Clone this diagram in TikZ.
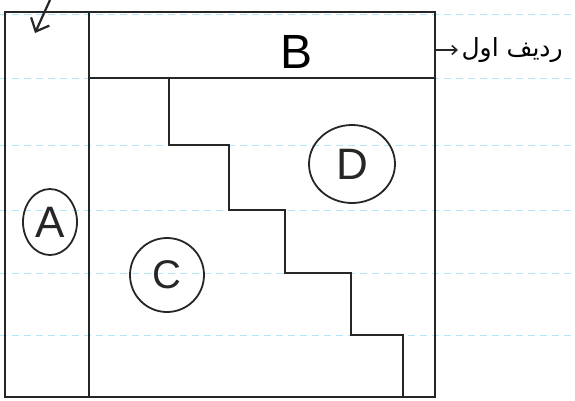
\documentclass[tikz,border=0pt]{standalone}
\usepackage{fontspec}
\setmainfont{Liberation Sans}
\newfontfamily\persianfont[Script=Arabic]{DejaVu Sans}
\TeXXeTstate=1
\usetikzlibrary{positioning, shapes.geometric, arrows.meta}

\begin{document}
\begin{tikzpicture}[x=1pt, y=-1pt,
    wall/.style={line width=2.4pt, black!85, line cap=round},
    ruling/.style={cyan!30, line width=0.7pt, dash pattern=on 7pt off 5pt},
    zone/.style={draw, ellipse, line width=1.8pt, black!85, inner sep=0pt},
    letter/.style={font=\fontsize{48}{48}\selectfont}]
    \useasboundingbox (0,0) rectangle (575,400);

    % Notebook lines
    \foreach \y in {14,78,145,210,273,335}
        \draw[ruling] (0,\y) -- (575,\y);

    % Define the corners of the table
    \coordinate (TL) at (5,12);
    \coordinate (TR) at (435,12);
    \coordinate (BL) at (5,397);
    \coordinate (BR) at (435,397);
    \coordinate (colT) at (89,12);
    \coordinate (colB) at (89,397);
    \coordinate (rowL) at (89,78);
    \coordinate (rowR) at (435,78);

    % Draw the frame, the first column and the first row
    \draw[wall] (TL) -- (TR) -- (BR) -- (BL) -- cycle;
    \draw[wall] (colT) -- (colB);
    \draw[wall] (rowL) -- (rowR);

    % Staircase between C and D
    \coordinate (S0) at (169,78);
    \coordinate (S1) at (229,145);
    \coordinate (S2) at (285,210);
    \coordinate (S3) at (351,273);
    \coordinate (S4) at (403,335);
    \coordinate (S5) at (403,397);
    \draw[wall] (S0) |- (S1) |- (S2) |- (S3) |- (S4) -- (S5);

    % Labels of the regions
    \node[letter] (B) at (297,52) {B};
    \node[zone, minimum width=54pt, minimum height=66pt] (A) at (50,222) {\fontsize{44}{44}\selectfont A};
    \node[zone, minimum width=74pt, minimum height=74pt] (C) at (167,275) {\fontsize{40}{40}\selectfont C};
    \node[zone, minimum width=86pt, minimum height=78pt] (D) at (352,164) {\fontsize{44}{44}\selectfont D};

    % Arrow into the corner cell
    \coordinate (entry) at (50,0);
    \coordinate (corner) at (35,33);
    \draw[line width=2.2pt, black!85, -{Straight Barb[length=11pt,width=20pt]}] (entry) -- (corner);

    % First row note
    \coordinate (rowtip) at (458,50);
    \draw[line width=1.6pt, black!85, -{Straight Barb[length=5pt,width=9pt]}] (rowR |- rowtip) -- (rowtip);
    \node[right=0pt of rowtip, font=\fontsize{25}{25}\selectfont\persianfont] (first) {\beginR ردیف اول\endR};
\end{tikzpicture}
\end{document}
